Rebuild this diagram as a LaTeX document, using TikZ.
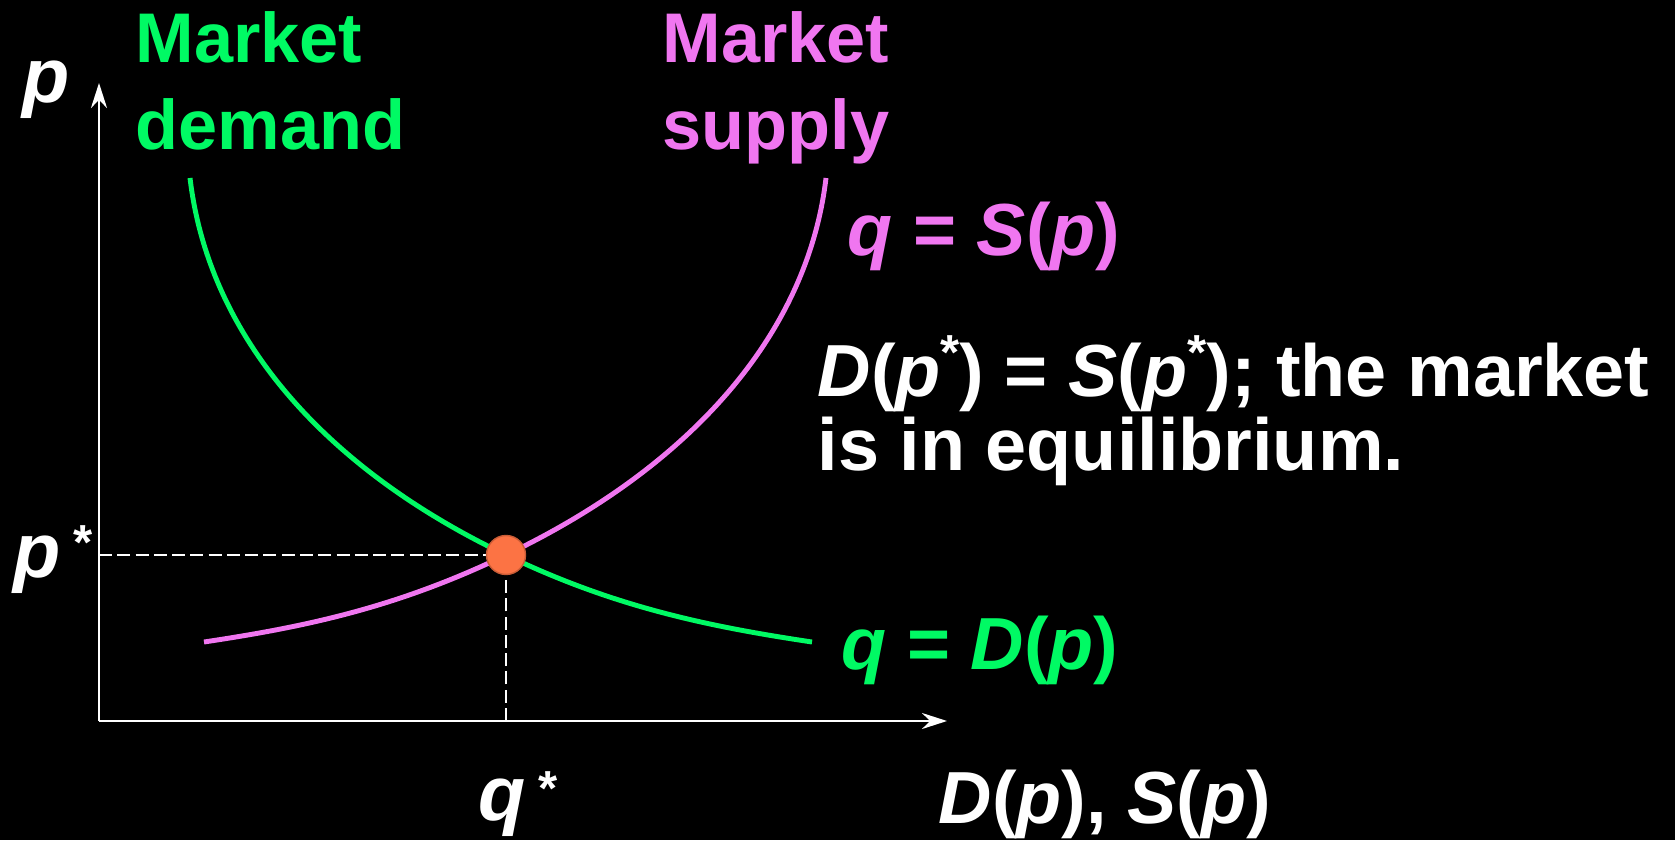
\documentclass[tikz,border=0pt]{standalone}
\usepackage{fontspec}
\setmainfont{Liberation Sans}
\usetikzlibrary{arrows.meta,positioning,calc}
\definecolor{demandgreen}{RGB}{0,250,100}
\definecolor{supplypink}{RGB}{240,118,240}
\definecolor{eqorange}{RGB}{252,115,68}
\newcommand{\iv}[1]{\textit{#1}}
\newcommand{\st}[1][6pt]{\raisebox{#1}{\fontsize{14pt}{14pt}\selectfont *}}

\begin{document}
\begin{tikzpicture}[>={Stealth[length=2.5mm,width=1.6mm]},
  lbl/.style={anchor=base west, inner sep=0pt, font=\fontsize{21pt}{21pt}\selectfont\bfseries},
  axlbl/.style={lbl, text=white, font=\fontsize{22pt}{22pt}\selectfont\bfseries},
  namelbl/.style={lbl, align=left, font=\fontsize{20pt}{25pt}\selectfont\bfseries},
  curve/.style={line width=1.4pt},
  guide/.style={white, line width=0.6pt, dash pattern=on 3.7pt off 1.5pt}]
\path[use as bounding box, fill=black] (-0.99,-1.19) rectangle (15.76,7.21);
% axes
\coordinate (O) at (0,0);
\coordinate (ytop) at (0,6.38);
\coordinate (xend) at (8.48,0);
\draw[white, line width=0.7pt, ->] (O) -- (ytop);
\draw[white, line width=0.7pt, ->] (O) -- (xend);
% equilibrium guides
\coordinate (E) at (4.07,1.66);
\draw[guide] (O |- E) -- (E);
\draw[guide] (O -| E) -- (E);
% demand and supply
\draw[curve, demandgreen] (0.91,5.43) .. controls (1.10,3.83) and (2.27,2.52) .. (E)
  .. controls (5.17,1.13) and (6.13,0.94) .. (7.13,0.79);
\draw[curve, supplypink] (1.05,0.79) .. controls (2.05,0.94) and (2.97,1.13) .. (E)
  .. controls (5.87,2.52) and (7.08,3.83) .. (7.27,5.43);
\node[circle, fill=eqorange, draw=eqorange!80!black, line width=0.4pt,
  minimum size=3.9mm, inner sep=0pt] (eq) at (E) {};
% labels
\node[axlbl] (plabel) at (-0.77,6.18) {\iv{p}};
\node[axlbl] (pstar) at (-0.86,1.44) {\iv{p}\,\st[5pt]};
\node[axlbl] (qstar) at (3.79,-0.99) {\iv{q}\,\st[4pt]};
\node[lbl, text=white] (xlabel) at (8.39,-1.02) {\iv{D}(\iv{p}), \iv{S}(\iv{p})};
\node[namelbl, text=demandgreen] (dname) at (0.36,5.71) {Market\\demand};
\node[namelbl, text=supplypink] (sname) at (5.63,5.71) {Market\\supply};
\node[lbl, text=supplypink] (sfun) at (7.48,4.65) {\iv{q} = \iv{S}(\iv{p})};
\node[lbl, text=demandgreen] (dfun) at (7.42,0.52) {\iv{q} = \iv{D}(\iv{p})};
\node[lbl, text=white, align=left] (eqtext) at (7.18,2.51)
  {\iv{D}(\iv{p}\st[7.5pt]) = \iv{S}(\iv{p}\st[7.5pt]); the market\\is in equilibrium.};
\end{tikzpicture}
\end{document}
